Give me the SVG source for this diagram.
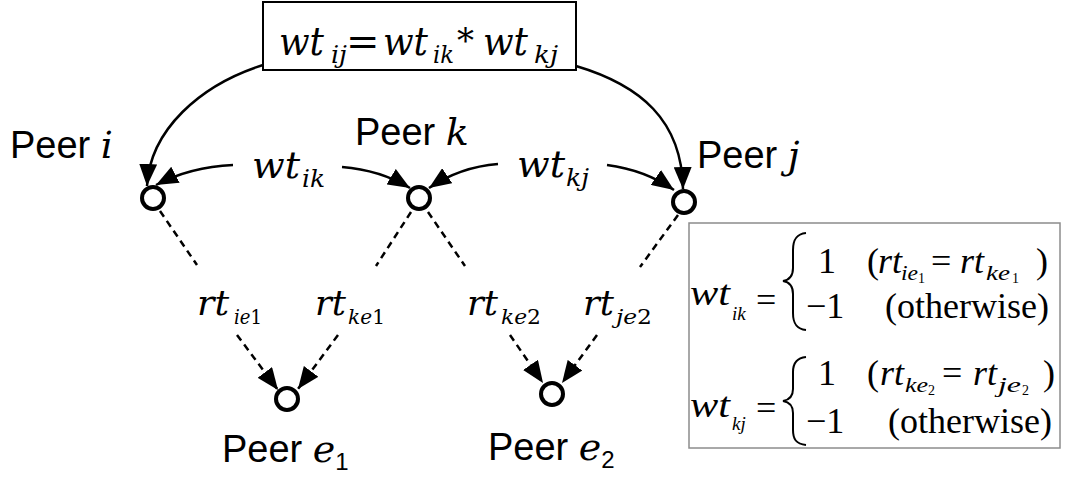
<svg xmlns="http://www.w3.org/2000/svg" width="1066" height="480" viewBox="0 0 1066 480">
  <style>
    .sans { font-family: 'Liberation Sans', Arial, sans-serif; font-size: 38px; fill: #000; }
    .m { font-family: 'DejaVu Serif', serif; font-style: italic; fill: #000; }
    .mu { font-family: 'DejaVu Serif', serif; font-style: normal; fill: #000; }
    .t { font-family: 'Liberation Serif', 'Times New Roman', serif; fill: #000; }
    .ti { font-family: 'Liberation Serif', 'Times New Roman', serif; font-style: italic; fill: #000; }
    .solid { fill: none; stroke: #000; stroke-width: 2.5; }
    .dash { fill: none; stroke: #000; stroke-width: 2.5; stroke-dasharray: 7 5; }
    .peer { fill: #fff; stroke: #000; stroke-width: 4; }
    .brace { fill: none; stroke: #000; stroke-width: 2; }
  </style>
  <defs>
    <marker id="arrow" viewBox="0 0 22 18" refX="22" refY="9" markerWidth="22" markerHeight="18" markerUnits="userSpaceOnUse" orient="auto">
      <path d="M0,0 L22,9 L0,18 z" fill="#000"/>
    </marker>
  </defs>

  <rect width="1066" height="480" fill="#fff"/>

  <!-- combined weight formula -->
  <g id="formula-top">
    <rect x="263" y="2" width="313" height="68" fill="#fff" stroke="#000" stroke-width="2"/>
    <text class="m" font-size="40" x="279" y="55" textLength="45" lengthAdjust="spacingAndGlyphs">wt</text>
    <text class="m" font-size="24" x="331" y="63" textLength="16" lengthAdjust="spacingAndGlyphs">ij</text>
    <text class="mu" font-size="40" x="346" y="55">=</text>
    <text class="m" font-size="40" x="383" y="55" textLength="45" lengthAdjust="spacingAndGlyphs">wt</text>
    <text class="m" font-size="24" x="433" y="63" textLength="21" lengthAdjust="spacingAndGlyphs">ik</text>
    <text class="mu" font-size="34" x="457" y="52">*</text>
    <text class="m" font-size="40" x="483" y="55" textLength="45" lengthAdjust="spacingAndGlyphs">wt</text>
    <text class="m" font-size="24" x="534" y="63" textLength="24" lengthAdjust="spacingAndGlyphs">kj</text>
  </g>

  <!-- connectors -->
  <g id="connectors">
    <path class="solid" d="M263,65 C200,85 150,130 147,186" marker-end="url(#arrow)"/>
    <path class="solid" d="M576,66 C640,85 682,120 683,189" marker-end="url(#arrow)"/>
    <path class="solid" d="M233,165 Q190,167 156,185" marker-end="url(#arrow)"/>
    <path class="solid" d="M342,167 Q380,170 410,188" marker-end="url(#arrow)"/>
    <path class="solid" d="M498,164 Q460,167 429,188" marker-end="url(#arrow)"/>
    <path class="solid" d="M607,165 Q645,170 674,190" marker-end="url(#arrow)"/>

    <path class="dash" d="M160,211 L197,265"/>
    <path class="dash" d="M411,212 L376,266"/>
    <path class="dash" d="M428,212 L465,266"/>
    <path class="dash" d="M678,215 L640,267"/>

    <path class="dash" d="M237,335 L278,390" marker-end="url(#arrow)"/>
    <path class="dash" d="M338,335 L298,389" marker-end="url(#arrow)"/>
    <path class="dash" d="M510,335 L543,383" marker-end="url(#arrow)"/>
    <path class="dash" d="M597,335 L562,383" marker-end="url(#arrow)"/>

    <!-- connector labels -->
    <text class="m" font-size="38" x="252" y="178" textLength="48" lengthAdjust="spacingAndGlyphs">wt</text>
    <text class="m" font-size="24" x="302" y="187" textLength="23" lengthAdjust="spacingAndGlyphs">ik</text>
    <text class="m" font-size="38" x="517" y="177" textLength="48" lengthAdjust="spacingAndGlyphs">wt</text>
    <text class="m" font-size="24" x="566" y="186" textLength="23" lengthAdjust="spacingAndGlyphs">kj</text>

    <text class="m" font-size="36" x="197" y="315" textLength="32" lengthAdjust="spacingAndGlyphs">rt</text>
    <text class="m" font-size="20" x="234" y="324" textLength="28" lengthAdjust="spacingAndGlyphs">ie<tspan class="mu">1</tspan></text>
    <text class="m" font-size="36" x="315" y="315" textLength="31" lengthAdjust="spacingAndGlyphs">rt</text>
    <text class="m" font-size="20" x="348" y="324" textLength="37" lengthAdjust="spacingAndGlyphs">ke<tspan class="mu">1</tspan></text>
    <text class="m" font-size="36" x="467" y="315" textLength="31" lengthAdjust="spacingAndGlyphs">rt</text>
    <text class="m" font-size="20" x="501" y="324" textLength="40" lengthAdjust="spacingAndGlyphs">ke<tspan class="mu">2</tspan></text>
    <text class="m" font-size="36" x="583" y="315" textLength="31" lengthAdjust="spacingAndGlyphs">rt</text>
    <text class="m" font-size="20" x="616" y="324" textLength="36" lengthAdjust="spacingAndGlyphs">je<tspan class="mu">2</tspan></text>
  </g>

  <!-- peers -->
  <g id="peer-i">
    <circle class="peer" cx="153" cy="198" r="11"/>
    <text class="sans" x="10" y="158">Peer <tspan class="m">i</tspan></text>
  </g>
  <g id="peer-k">
    <circle class="peer" cx="419" cy="198" r="11"/>
    <text class="sans" x="355" y="145">Peer <tspan class="m">k</tspan></text>
  </g>
  <g id="peer-j">
    <circle class="peer" cx="684" cy="202" r="11"/>
    <text class="sans" x="697" y="168">Peer <tspan class="m">j</tspan></text>
  </g>
  <g id="peer-e1">
    <circle class="peer" cx="287" cy="399" r="11"/>
    <text class="sans" x="222" y="462">Peer <tspan class="m">e</tspan><tspan font-size="24" dy="8">1</tspan></text>
  </g>
  <g id="peer-e2">
    <circle class="peer" cx="552" cy="394" r="11"/>
    <text class="sans" x="488" y="460">Peer <tspan class="m">e</tspan><tspan font-size="24" dy="8">2</tspan></text>
  </g>

  <!-- weight definitions -->
  <g id="definitions">
    <rect x="689" y="223" width="371" height="225" fill="#fff" stroke="#8c8c8c" stroke-width="1.5"/>

    <text class="ti" font-size="36" x="690" y="305" textLength="40" lengthAdjust="spacingAndGlyphs">wt</text>
    <text class="ti" font-size="19" x="732" y="320">ik</text>
    <text class="t" font-size="36" x="756" y="312">=</text>
    <path class="brace" d="M806,233 C796,234 793,240 793,250 L793,268 C793,276 789,280 783,281 C789,282 793,286 793,294 L793,313 C793,323 796,329 806,330"/>
    <text class="t" font-size="36" x="818" y="273">1</text>
    <text class="t" font-size="36" x="867" y="273">(</text>
    <text class="ti" font-size="36" x="878" y="273">rt</text>
    <text class="ti" font-size="20" x="901" y="280" textLength="17" lengthAdjust="spacingAndGlyphs">ie</text>
    <text class="t" font-size="14" x="918" y="283">1</text>
    <text class="t" font-size="36" x="931" y="273">=</text>
    <text class="ti" font-size="36" x="960" y="273">rt</text>
    <text class="ti" font-size="20" x="986" y="280" textLength="24" lengthAdjust="spacingAndGlyphs">ke</text>
    <text class="t" font-size="14" x="1012" y="283">1</text>
    <text class="t" font-size="36" x="1036" y="273">)</text>
    <text class="t" font-size="36" x="806" y="318">−1</text>
    <text class="t" font-size="36" x="885" y="318">(otherwise)</text>

    <text class="ti" font-size="36" x="690" y="417" textLength="40" lengthAdjust="spacingAndGlyphs">wt</text>
    <text class="ti" font-size="19" x="732" y="430">kj</text>
    <text class="t" font-size="36" x="756" y="420">=</text>
    <path class="brace" d="M806,357 C796,358 793,364 793,372 L793,389 C793,396 789,400 783,401 C789,402 793,406 793,413 L793,430 C793,439 796,444 806,445"/>
    <text class="t" font-size="36" x="818" y="385">1</text>
    <text class="t" font-size="36" x="867" y="385">(</text>
    <text class="ti" font-size="36" x="880" y="385">rt</text>
    <text class="ti" font-size="20" x="905" y="392" textLength="23" lengthAdjust="spacingAndGlyphs">ke</text>
    <text class="t" font-size="14" x="928" y="395">2</text>
    <text class="t" font-size="36" x="942" y="385">=</text>
    <text class="ti" font-size="36" x="973" y="385">rt</text>
    <text class="ti" font-size="20" x="998" y="392" textLength="23" lengthAdjust="spacingAndGlyphs">je</text>
    <text class="t" font-size="14" x="1022" y="395">2</text>
    <text class="t" font-size="36" x="1043" y="385">)</text>
    <text class="t" font-size="36" x="806" y="433">−1</text>
    <text class="t" font-size="36" x="888" y="433">(otherwise)</text>
  </g>
</svg>
